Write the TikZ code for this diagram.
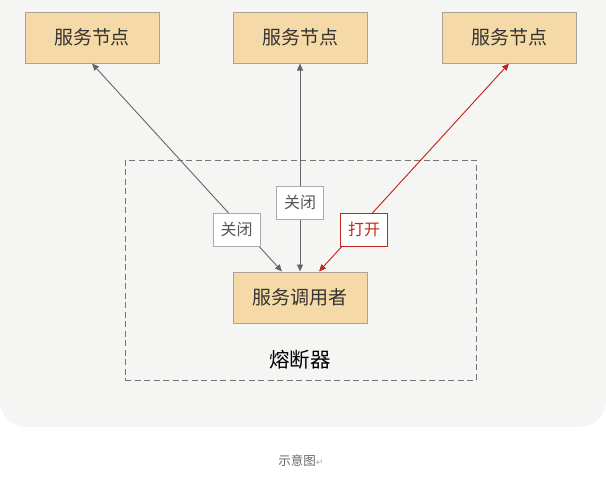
\documentclass[tikz,border=0pt]{standalone}
\usepackage{fontspec}
\setmainfont{Noto Sans CJK SC}
\newfontfamily\symfont{DejaVu Sans}
\usetikzlibrary{arrows.meta}
\definecolor{panelbg}{HTML}{F5F5F3}
\definecolor{boxfill}{HTML}{F5DAA7}
\definecolor{boxline}{HTML}{A8A49C}
\definecolor{linkgray}{HTML}{666666}
\definecolor{labline}{HTML}{AAAAAA}
\definecolor{labtext}{HTML}{555555}
\definecolor{openred}{HTML}{C0281B}
\definecolor{txt}{HTML}{333333}
\tikzset{
  svcbox/.style={draw=boxline, line width=1pt, fill=boxfill, minimum width=134pt,
    minimum height=51pt, inner sep=0pt, text=txt, font=\fontsize{19}{21}\selectfont},
  statelab/.style={draw=labline, line width=1pt, fill=white, minimum width=47pt,
    minimum height=33pt, inner sep=0pt, text=labtext, font=\fontsize{16}{18}\selectfont},
  openlab/.style={statelab, draw=openred, text=openred},
  link/.style={draw=linkgray, line width=0.9pt, {Triangle[length=7pt,width=6pt]}-{Triangle[length=7pt,width=6pt]}},
  openlink/.style={link, draw=openred, fill=openred}
}
\begin{document}
\begin{tikzpicture}[x=1pt,y=-1pt]
\useasboundingbox (0,0) rectangle (606,479);
% panel behind the diagram
\begin{scope}
\clip (0,0) rectangle (606,479);
\fill[panelbg, rounded corners=26pt] (0,-40) rectangle (606,427);
\end{scope}
% circuit breaker boundary
\node[draw=linkgray!90, dashed, dash pattern=on 6pt off 3.5pt, line width=0.9pt,
  minimum width=351pt, minimum height=220pt, inner sep=0pt] (breaker) at (300.5,270) {};
\node[font=\fontsize{20.5}{22}\selectfont, text=black] (breakerlab) at (300,360) {熔断器};
% service nodes
\node[svcbox] (svc1) at (92,37.5) {服务节点};
\node[svcbox] (svc2) at (300,37.5) {服务节点};
\node[svcbox] (svc3) at (509,37.5) {服务节点};
\node[svcbox] (caller) at (300,297.5) {服务调用者};
% attachment points on the caller
\coordinate (inL) at ([xshift=-18pt]caller.north);
\coordinate (inR) at ([xshift=19pt]caller.north);
% connections
\draw[link] (svc1.south) -- (inL);
\draw[link] (svc2.south) -- (caller.north);
\draw[openlink] (svc3.south) -- (inR);
% state labels
\node[statelab] (st1) at (236.5,229.5) {关闭};
\node[statelab] (st2) at (300,202.5) {关闭};
\node[openlab] (st3) at (364,229.5) {打开};
% caption
\node[text=linkgray, font=\fontsize{12.5}{14}\selectfont] (cap) at (301,461) {示意图{\symfont\fontsize{9}{10}\selectfont\color{labline}↵}};
\end{tikzpicture}
\end{document}
